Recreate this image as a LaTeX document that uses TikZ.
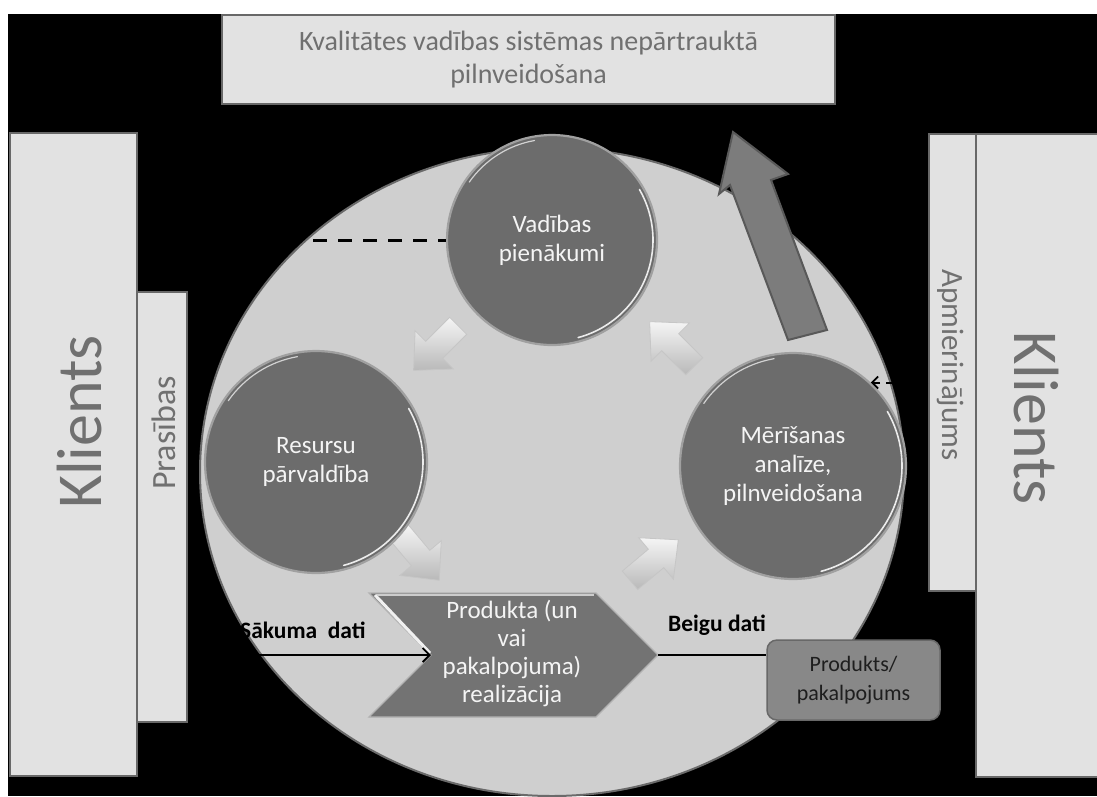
\documentclass[tikz,border=0pt]{standalone}
\usepackage{fontspec}
\setmainfont{Carlito}
\usetikzlibrary{arrows.meta,calc,shapes.geometric}
\definecolor{boxfill}{HTML}{E2E2E2}
\definecolor{boxline}{HTML}{686868}
\definecolor{boxtext}{HTML}{707070}
\definecolor{discfill}{HTML}{CFCFCF}
\definecolor{discline}{HTML}{6A6A6A}
\definecolor{ballfill}{HTML}{6C6C6C}
\definecolor{ballrim}{HTML}{A0A0A0}
\definecolor{balltext}{HTML}{F4F4F4}
\definecolor{chevfill}{HTML}{737373}
\definecolor{bigarrow}{HTML}{7C7C7C}
\definecolor{bigarrowline}{HTML}{595959}
\definecolor{prodfill}{HTML}{888888}
\definecolor{prodtext}{HTML}{1E1E1E}
\newcommand\blockarr[2]{%
  \begin{scope}[shift={(#1)},rotate=#2]
    \shade[top color=white!92!gray, bottom color=gray!55, draw=gray!45, line width=0.8]
      (-30,-12) -- (4,-12) -- (4,-27) -- (33,0) -- (4,27) -- (4,12) -- (-30,12) -- cycle;
  \end{scope}}
\newcommand\gloss[2]{%
  \draw[white!85!gray, line width=1.6, line cap=round]
    ($(#1.center)+(-75:#2pt)$) arc[start angle=-75, end angle=30, radius=#2pt];
  \draw[white!65!gray, line width=1.2, line cap=round]
    ($(#1.center)+(100:#2pt)$) arc[start angle=100, end angle=145, radius=#2pt];}
\begin{document}
\begin{tikzpicture}[x=1pt,y=-1pt,
  sidebox/.style={draw=boxline, fill=boxfill, line width=2, inner sep=0, rectangle},
  sidetext/.style={text=boxtext, inner sep=0},
  ballst/.style={circle, fill=ballfill, draw=ballrim, line width=2.2, inner sep=0,
     text=balltext, align=center, font=\fontsize{25}{29}\selectfont},
  boldlbl/.style={font=\fontsize{23.5}{26}\selectfont\bfseries, text=black, inner sep=0},
  conn/.style={line width=1.8, draw=black},
]
\useasboundingbox (0,0) rectangle (1097,796);
\fill[white] (0,0) rectangle (1097,796);
\fill[black] (8,14) rectangle (1097,796);

% top box
\node[sidebox, minimum width=613, minimum height=89, align=center, text=boxtext,
      font=\fontsize{28}{33}\selectfont] (top) at (528.5,59.5)
  {Kvalitātes vadības sistēmas nepārtrauktā\\pilnveidošana};

% left side boxes
\node[sidebox, minimum width=127, minimum height=643] (klL) at (73.5,454.5) {};
\node[sidebox, minimum width=50, minimum height=430] (pras) at (162,507) {};
\node[sidetext, rotate=90, font=\fontsize{64}{64}\selectfont] (klLtxt) at (80,422) {Klients};
\node[sidetext, rotate=90, font=\fontsize{34}{34}\selectfont] (prastxt) at (164,433) {Prasības};

% right side boxes
\node[sidebox, minimum width=132, minimum height=643, anchor=north west] (klR) at (975,133) {};
\node[sidebox, minimum width=47, minimum height=457, anchor=north west] (apm) at (928,133) {};
\node[sidetext, rotate=-90, font=\fontsize{31}{31}\selectfont] (apmtxt) at (950,365) {Apmierinājums};
\node[sidetext, rotate=-90, font=\fontsize{64}{64}\selectfont] (klRtxt) at (1036,418) {Klients};

% big disc
\node[ellipse, fill=discfill, draw=discline, line width=2, minimum width=704, minimum height=648, inner sep=0] (disc) at (552,472) {};

% big arrow
\filldraw[fill=bigarrow, draw=bigarrowline, line width=2]
  (733,132) -- (788,174) -- (771,180) -- (827,330) -- (788,340) -- (730,185) -- (719,194) -- cycle;

% small cycle arrows
\blockarr{437,347}{225}
\blockarr{673,345}{135}
\blockarr{418,555}{-50}
\blockarr{653,561}{40}

% balls
\node[ballst, minimum size=210] (vad) at (552,240) {Vadības\\pienākumi};
\node[ballst, minimum size=222] (res) at (316,462) {Resursu\\pārvaldība};
\node[ballst, minimum size=226] (mer) at (793,466) {Mērīšanas\\analīze,\\pilnveidošana};
\gloss{vad}{101}
\gloss{res}{107}
\gloss{mer}{109}

% chevron
\coordinate (chTL) at (369,593);
\coordinate (chN) at (431,655);
\coordinate (chBL) at (369,717);
\coordinate (chTR) at (596,593);
\coordinate (chT) at (658,655);
\coordinate (chBR) at (596,717);
\filldraw[fill=chevfill, draw=gray!60, line width=1.2]
  (chTL) -- (chTR) -- (chT) -- (chBR) -- (chBL) -- (chN) -- cycle;
\draw[white!88!gray, line width=3] ($(chTL)+(6,2)$) -- ($(chN)+(-1,-2)$);
\draw[white!60!gray, line width=1.5] ($(chTL)+(8,2)$) -- ($(chTR)+(-2,2)$);
\node[text=balltext, align=center, font=\fontsize{25}{28}\selectfont, inner sep=0] (prodtxt) at (512,653)
  {Produkta (un\\vai\\pakalpojuma)\\realizācija};

% product box
\node[draw=boxline, fill=prodfill, rounded corners=10, line width=1.5, minimum width=173,
      minimum height=80, align=center, text=prodtext, font=\fontsize{22}{29}\selectfont,
      inner sep=0] (produkts) at (853.5,680) {Produkts/\\pakalpojums};

% connectors
\draw[line width=3, dash pattern=on 14 off 11] (vad.west -| klL.east) -- (vad.west);
\draw[conn, -{Straight Barb[length=7,width=14,line width=1.8]}] (pras.east |- chN) -- (chN);
\draw[line width=1.4] (chT) -- (produkts.west |- chT);
\draw[line width=2, dash pattern=on 10 off 6, -{Straight Barb[length=6,width=12,line width=1.8]}]
  (apm.west |- mer.47) -- (mer.47);

% labels
\node[boldlbl, anchor=west] (sak) at (240,630) {Sākuma\ \ dati};
\node[boldlbl, anchor=west] (beig) at (668,625) {Beigu dati};
\end{tikzpicture}
\end{document}
